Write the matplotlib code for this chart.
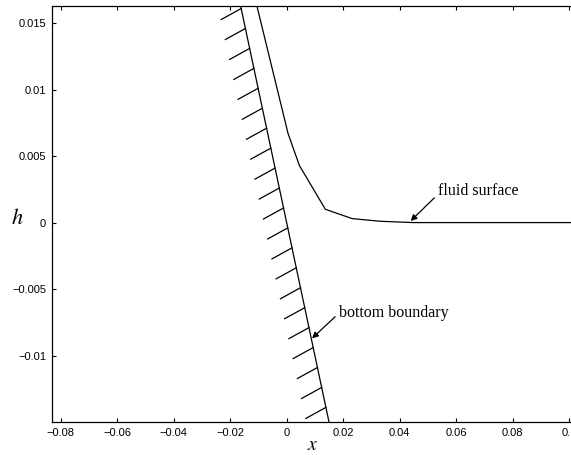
import numpy as np
import matplotlib.pyplot as plt
from matplotlib.ticker import FuncFormatter

plt.rcParams['mathtext.fontset'] = 'stix'

# fluid surface
surf_x = [-0.0110, 0.0005, 0.0045, 0.0137, 0.0232, 0.0330, 0.0450, 0.1100]
surf_h = [0.0167, 0.0067, 0.0043, 0.0010, 0.0003, 0.0001, 0.0000, 0.0000]

# bottom boundary h = -x, with hatch marks on the solid side
bot_x = [-0.0172, 0.0160]
bot_h = [0.0172, -0.0160]
hatch_h = [0.0161, 0.0146, 0.0131, 0.0116, 0.0101, 0.0086, 0.0071,
           0.0056, 0.0041, 0.0026, 0.0011, -0.0004, -0.0019, -0.0034,
           -0.0049, -0.0064, -0.0079, -0.0094, -0.0109, -0.0124, -0.0139]
hatch_dx = -0.0071
hatch_dh = -0.00083

xticks = [-0.08, -0.06, -0.04, -0.02, 0, 0.02, 0.04, 0.06, 0.08, 0.1]
yticks = [-0.01, -0.005, 0, 0.005, 0.01, 0.015]

fig = plt.figure(figsize=(5.71, 4.55), dpi=100)
ax = fig.add_axes([0.0905, 0.0725, 0.915, 0.914])

ax.plot(surf_x, surf_h, color='k', lw=0.9)
ax.plot(bot_x, bot_h, color='k', lw=0.9)
for hh in hatch_h:
    x0 = -hh
    ax.plot([x0, x0 + hatch_dx], [hh, hh + hatch_dh], color='k', lw=0.9)

ax.set_xlim(-0.0832, 0.1018)
ax.set_ylim(-0.0150, 0.01628)
ax.set_xticks(xticks)
ax.set_yticks(yticks)

fmt = FuncFormatter(lambda v, p: ('%g' % round(v, 6)).replace('-', '\u2212'))
ax.xaxis.set_major_formatter(fmt)
ax.yaxis.set_major_formatter(fmt)
ax.tick_params(direction='in', length=3, width=0.8, top=True, right=False,
               labelsize=8, pad=4)
for lab in ax.get_xticklabels() + ax.get_yticklabels():
    lab.set_family('Liberation Sans')
for s in ax.spines.values():
    s.set_linewidth(0.9)
ax.spines['right'].set_visible(False)

fig.text(0.547, 0.024, '$x$', fontsize=14, ha='center', va='center')
fig.text(0.030, 0.521, '$h$', fontsize=16, ha='center', va='center')

ax.text(0.0535, 0.00240, 'fluid surface', family='Liberation Serif',
        fontsize=11.5, va='center', ha='left')
ax.annotate('', xy=(0.0439, 0.00012), xytext=(0.0523, 0.00186),
            arrowprops=dict(arrowstyle='-|>', color='k', lw=0.9,
                            mutation_scale=9, shrinkA=0, shrinkB=0))
ax.text(0.0185, -0.0068, 'bottom boundary', family='Liberation Serif',
        fontsize=11.5, va='center', ha='left')
ax.annotate('', xy=(0.0090, -0.00871), xytext=(0.01717, -0.00708),
            arrowprops=dict(arrowstyle='-|>', color='k', lw=0.9,
                            mutation_scale=9, shrinkA=0, shrinkB=0))

fig.savefig('out.png', dpi=100)
